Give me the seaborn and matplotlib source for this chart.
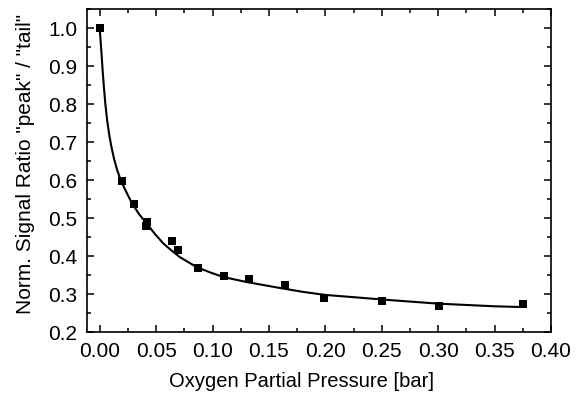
import matplotlib
matplotlib.use("Agg")
import matplotlib.pyplot as plt
import seaborn as sns
import pandas as pd
from matplotlib.ticker import MultipleLocator

# Measured data points
pressure = [0.000, 0.020, 0.030, 0.042, 0.041, 0.064, 0.069, 0.087, 0.110,
            0.132, 0.164, 0.199, 0.250, 0.301, 0.375]
ratio = [1.000, 0.598, 0.536, 0.491, 0.479, 0.439, 0.415, 0.369, 0.347,
         0.339, 0.323, 0.289, 0.283, 0.270, 0.275]

# Fitted curve
fit_x = [0.0, 0.0008, 0.0016, 0.0026, 0.0037, 0.0050, 0.0066, 0.0084, 0.0104,
         0.0128, 0.0155, 0.0184, 0.0214, 0.0250, 0.0288, 0.0350, 0.0418,
         0.0490, 0.0565, 0.0640, 0.0712, 0.086, 0.0980, 0.1096, 0.130, 0.145,
         0.160, 0.180, 0.1996, 0.225, 0.2497, 0.2998, 0.350, 0.375]
fit_y = [1.0, 0.965, 0.933, 0.888, 0.845, 0.800, 0.757, 0.720, 0.687,
         0.655, 0.626, 0.602, 0.582, 0.560, 0.538, 0.510, 0.485,
         0.458, 0.433, 0.414, 0.397, 0.371, 0.357, 0.345, 0.332, 0.324,
         0.316, 0.306, 0.298, 0.292, 0.286, 0.275, 0.268, 0.266]

sns.set_style("ticks")
plt.rcParams['font.family'] = ['Liberation Sans', 'DejaVu Sans']
plt.rcParams['axes.labelcolor'] = 'black'
plt.rcParams['text.color'] = 'black'

fig = plt.figure(figsize=(5.84, 3.94), dpi=100)
ax = fig.add_axes([0.1495, 0.157, 0.9435 - 0.1495, 0.977 - 0.157])

df_pts = pd.DataFrame({"x": pressure, "y": ratio})
df_fit = pd.DataFrame({"x": fit_x, "y": fit_y})

sns.lineplot(data=df_fit, x="x", y="y", ax=ax, color="black", linewidth=1.5,
             sort=False, estimator=None)
sns.scatterplot(data=df_pts, x="x", y="y", ax=ax, marker="s", color="black",
                s=30, edgecolor="black", linewidth=0, zorder=3)

ax.set_xlim(-0.011, 0.40)
ax.set_ylim(0.2, 1.05)
ax.xaxis.set_minor_locator(MultipleLocator(0.025))
ax.yaxis.set_minor_locator(MultipleLocator(0.05))
ax.set_xticks([0.0, 0.05, 0.10, 0.15, 0.20, 0.25, 0.30, 0.35, 0.40])
ax.set_xticklabels(["0.00", "0.05", "0.10", "0.15", "0.20", "0.25", "0.30", "0.35", "0.40"])
ax.set_yticks([0.2, 0.3, 0.4, 0.5, 0.6, 0.7, 0.8, 0.9, 1.0])
ax.set_yticklabels(["0.2", "0.3", "0.4", "0.5", "0.6", "0.7", "0.8", "0.9", "1.0"])

ax.tick_params(which="both", direction="in", top=True, right=True,
               labelsize=15, width=1.1, colors="black")
ax.tick_params(which="major", length=5, pad=7)
ax.tick_params(which="minor", length=3)
for sp in ax.spines.values():
    sp.set_visible(True)
    sp.set_linewidth(1.2)
    sp.set_color("black")

ax.set_xlabel("Oxygen Partial Pressure [bar]", fontsize=14.5, labelpad=8, color="black")
ax.set_ylabel('Norm. Signal Ratio "peak" / "tail"', fontsize=15, labelpad=10, color="black")
ax.xaxis.label.set_x(0.463)
ax.yaxis.label.set_y(0.52)

fig.savefig("out.png", dpi=100)
